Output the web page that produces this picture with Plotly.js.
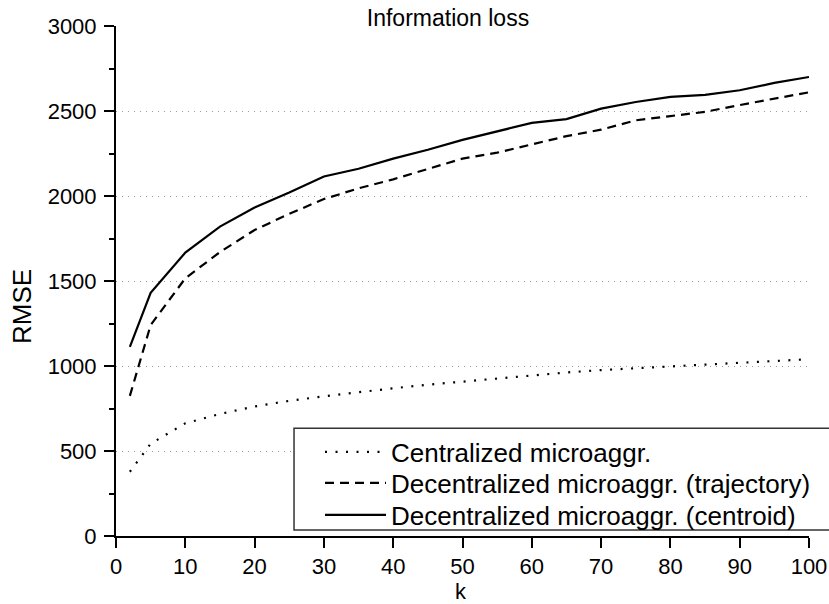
<!DOCTYPE html>
<html>
<head>
<meta charset="utf-8">
<script src="https://cdn.plot.ly/plotly-3.0.1.min.js"></script>
<style>html,body{margin:0;padding:0;background:#fff;}#chart{width:829px;height:604px;}</style>
</head>
<body>
<div id="chart"></div>
<script>
var kValues = [2,5,10,15,20,25,30,35,40,45,50,55,60,65,70,75,80,85,90,95,100];
var centralized = [378,543,663,718,762,795,822,847,869,890,908,928,947,962,976,987,997,1010,1022,1030,1040];
var decentralizedTrajectory = [824,1241,1516,1670,1800,1895,1982,2045,2098,2160,2220,2255,2305,2352,2390,2445,2470,2495,2535,2573,2610];
var decentralizedCentroid = [1113,1430,1667,1820,1932,2020,2115,2160,2220,2272,2330,2380,2430,2452,2514,2553,2583,2595,2622,2665,2700];
var seriesNames = ["Centralized microaggr.", "Decentralized microaggr. (trajectory)", "Decentralized microaggr. (centroid)"];
var yTicks = [0,500,1000,1500,2000,2500,3000];
var gridTicks = [500,1000,1500,2000,2500];
var xTicks = [0,10,20,30,40,50,60,70,80,90,100];

var FONT = "Arial, 'Liberation Sans', sans-serif";

var traces = [
  {x: kValues, y: centralized, name: seriesNames[0], mode: 'lines', legend: 'legend',
   line: {color: '#000', width: 2.2, dash: '2px,8.5px'}},
  {x: kValues, y: decentralizedTrajectory, name: seriesNames[1], mode: 'lines', legend: 'legend2',
   line: {color: '#000', width: 2.2, dash: '9px,6px'}},
  {x: kValues, y: decentralizedCentroid, name: seriesNames[2], mode: 'lines', legend: 'legend3',
   line: {color: '#000', width: 2.2}},
  {x: [0], y: [0], yaxis: 'y2', mode: 'markers', showlegend: false, hoverinfo: 'skip',
   marker: {opacity: 0}}
];

function legendAt(yPaper) {
  return {
    x: 0.2944, y: yPaper, xanchor: 'left', yanchor: 'middle',
    bgcolor: 'rgba(0,0,0,0)', borderwidth: 0,
    font: {size: 26, family: FONT, color: '#000'},
    itemwidth: 61
  };
}

var layout = {
  width: 829, height: 604,
  margin: {l: 116, r: 20, t: 26, b: 68, autoexpand: false},
  paper_bgcolor: '#fff', plot_bgcolor: '#fff',
  font: {family: FONT, color: '#000', size: 21},
  showlegend: true,
  title: {text: 'Information loss', font: {size: 23, family: FONT, color: '#000'},
          xref: 'container', x: 0.5404, xanchor: 'center', yref: 'container', y: 0.970, yanchor: 'middle'},
  xaxis: {
    range: [0, 100], tickvals: xTicks, ticktext: xTicks.map(String),
    showline: true, linecolor: '#000', linewidth: 2, mirror: false,
    ticks: 'outside', ticklen: 10, tickwidth: 2, tickcolor: '#000',
    showgrid: false, zeroline: false,
    tickfont: {size: 22, family: FONT, color: '#000'}
  },
  yaxis: {
    range: [0, 3000], tickvals: yTicks, ticktext: yTicks.map(String),
    showline: true, linecolor: '#000', linewidth: 2,
    ticks: 'outside', ticklen: 10, tickwidth: 2, tickcolor: '#000',
    minor: {dtick: 250, tick0: 0, ticks: 'outside', ticklen: 5, tickwidth: 2, tickcolor: '#000', showgrid: false},
    showgrid: false, zeroline: false,
    tickfont: {size: 22, family: FONT, color: '#000'},
    ticklabelstandoff: 3
  },
  yaxis2: {
    overlaying: 'y', matches: 'y', range: [0, 3000], tickvals: gridTicks,
    showticklabels: false, ticks: '', showline: false, zeroline: false,
    showgrid: true, gridcolor: '#9a9a9a', gridwidth: 1, griddash: '1px,5px'
  },
  legend: legendAt(0.1647),
  legend2: legendAt(0.1039),
  legend3: legendAt(0.0412),
  shapes: [
    {type: 'rect', xref: 'paper', yref: 'paper', x0: 0.2569, x1: 1.04, y0: 0.0118, y1: 0.2112,
     line: {color: '#333', width: 1.5}, fillcolor: '#fff', layer: 'above'}
  ],
  annotations: [
    {text: 'RMSE', xref: 'paper', yref: 'paper', x: -0.1356, y: 0.449, xanchor: 'center', yanchor: 'middle',
     textangle: -90, showarrow: false, font: {size: 26, family: FONT, color: '#000'}},
    {text: 'k', xref: 'paper', yref: 'paper', x: 0.4978, y: -0.0833, xanchor: 'center', yanchor: 'top',
     showarrow: false, borderpad: 0, font: {size: 22, family: FONT, color: '#000'}}
  ]
};

Plotly.newPlot('chart', traces, layout, {displayModeBar: false, staticPlot: true});
</script>
</body>
</html>
